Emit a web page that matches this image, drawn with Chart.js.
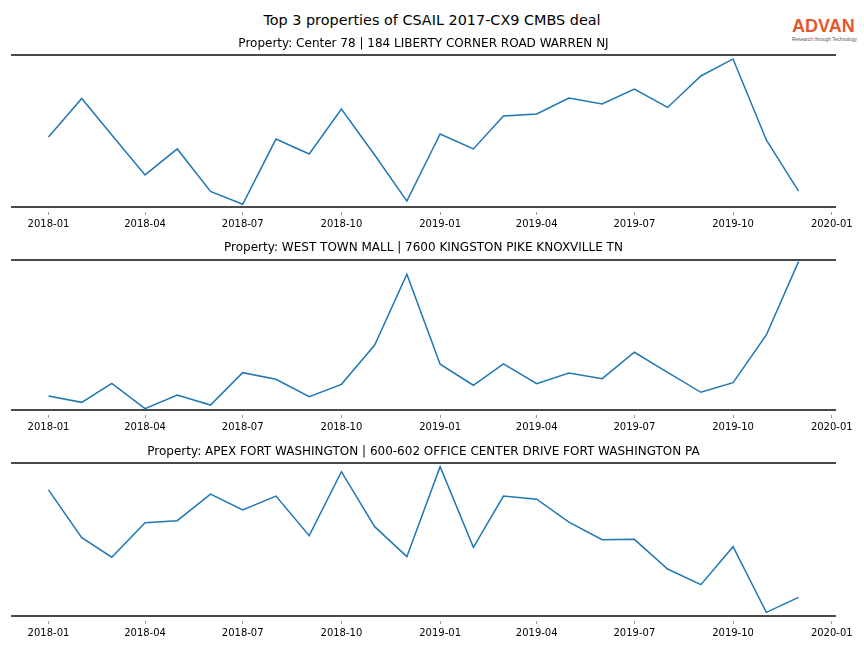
<!DOCTYPE html>
<html lang="en">
<head>
<meta charset="UTF-8">
<title>Top 3 properties of CSAIL 2017-CX9 CMBS deal</title>
<script src="https://cdn.jsdelivr.net/npm/chart.js"></script>
<style>
    body { margin: 0; width: 864px; height: 648px; background: #fff; position: relative; overflow: hidden; font-family: "DejaVu Sans", sans-serif; }
    #suptitle { position: absolute; top: 10px; left: 0; width: 864px; text-align: center; font-size: 14.4px; line-height: 20px; color: #000; }
    .panel { position: absolute; left: 0; width: 864px; }
    #logo { position: absolute; left: 792px; top: 16px; width: 70px; text-align: left; }
    #logo .brand { font-family: "Liberation Sans", Arial, sans-serif; font-weight: bold; font-size: 18px; line-height: 21px; color: #e4572e; }
    #logo .tag { font-family: "Liberation Sans", Arial, sans-serif; font-size: 4.9px; line-height: 5px; color: #555; white-space: nowrap; }
</style>
</head>
<body>
<div id="suptitle">Top 3 properties of CSAIL 2017-CX9 CMBS deal</div>
<div id="logo"><div class="brand">ADVAN</div><div class="tag">Research through Technology</div></div>

<div class="panel" style="top:30px;height:200px"><canvas id="chart1"></canvas></div>
<div class="panel" style="top:234px;height:199px"><canvas id="chart2"></canvas></div>
<div class="panel" style="top:438px;height:201px"><canvas id="chart3"></canvas></div>

<script>
    // monthly observations, 2018-01 .. 2019-12
    const months = [
        '2018-01', '2018-02', '2018-03', '2018-04', '2018-05', '2018-06',
        '2018-07', '2018-08', '2018-09', '2018-10', '2018-11', '2018-12',
        '2019-01', '2019-02', '2019-03', '2019-04', '2019-05', '2019-06',
        '2019-07', '2019-08', '2019-09', '2019-10', '2019-11', '2019-12'
    ];
    const tickLabels = ['2018-01', '2018-04', '2018-07', '2018-10', '2019-01', '2019-04', '2019-07', '2019-10', '2020-01'];

    const titles = [
        'Property: Center 78 | 184 LIBERTY CORNER ROAD WARREN NJ',
        'Property: WEST TOWN MALL | 7600 KINGSTON PIKE KNOXVILLE TN',
        'Property: APEX FORT WASHINGTON | 600-602 OFFICE CENTER DRIVE FORT WASHINGTON PA'
    ];

    // relative visit index (no y axis shown in the original)
    const center78 = [46.1, 71.4, 47.4, 21.1, 38.2, 10.2, 1.8, 44.7, 34.9, 64.5, 34.2, 3.9,
                      48.0, 38.2, 59.9, 61.2, 71.7, 67.8, 77.6, 65.5, 86.2, 97.4, 44.1, 10.5];
    const westTownMall = [9.3, 5.1, 17.8, 0.9, 10.0, 3.3, 24.9, 20.5, 8.9, 17.1, 43.3, 90.5,
                          30.5, 16.5, 30.7, 17.5, 24.7, 20.9, 38.5, 25.1, 11.8, 18.2, 50.0, 98.9];
    const apexFortWashington = [82.4, 51.2, 38.4, 61.0, 62.3, 79.7, 69.3, 78.4, 52.5, 94.3, 58.4, 38.8,
                                97.6, 44.9, 78.4, 76.3, 61.4, 49.9, 50.1, 30.7, 20.5, 45.3, 2.4, 12.2];

    const DAY = 86400000;
    const origin = Date.UTC(2018, 0, 1);
    function toDays(label) {
        const [y, m] = label.split('-').map(Number);
        return Math.round((Date.UTC(y, m - 1, 1) - origin) / DAY);
    }
    const tickDays = tickLabels.map(toDays);
    const labelByDay = {};
    tickLabels.forEach((l, i) => { labelByDay[tickDays[i]] = l; });

    function makePanel(canvasId, title, values, titlePadBottom) {
        new Chart(document.getElementById(canvasId), {
            type: 'line',
            data: {
                datasets: [{
                    data: months.map((m, i) => ({ x: toDays(m), y: values[i] })),
                    borderColor: '#1f77b4',
                    borderWidth: 1.5,
                    pointRadius: 0,
                    tension: 0,
                    fill: false
                }]
            },
            options: {
                responsive: true,
                maintainAspectRatio: false,
                animation: false,
                layout: { padding: { left: 12, right: 29, top: 0, bottom: 0 } },
                plugins: {
                    legend: { display: false },
                    tooltip: { enabled: false },
                    title: {
                        display: true,
                        text: title,
                        fullSize: false,
                        color: '#000',
                        font: { family: 'DejaVu Sans', size: 12, weight: 'normal' },
                        padding: { top: 6.8, bottom: titlePadBottom - 1.8 }
                    }
                },
                scales: {
                    x: {
                        type: 'linear',
                        position: 'bottom',
                        min: -34,
                        max: 733,
                        afterBuildTicks: s => { s.ticks = tickDays.map(v => ({ value: v })); },
                        afterFit: s => { s.height = 23; },
                        border: { display: true, color: '#4a4a4a', width: 2 },
                        grid: {
                            display: true,
                            drawOnChartArea: false,
                            drawTicks: true,
                            tickLength: 8,
                            tickColor: '#999',
                            tickWidth: 1,
                            tickBorderDash: [0, 4, 4, 100]
                        },
                        ticks: {
                            autoSkip: false,
                            maxRotation: 0,
                            padding: 3,
                            color: '#000',
                            font: { family: 'DejaVu Sans', size: 10 },
                            callback: v => labelByDay[v] || ''
                        }
                    },
                    xTop: {
                        type: 'linear',
                        position: 'top',
                        min: -34,
                        max: 733,
                        afterFit: s => { s.height = 0; },
                        border: { display: true, color: '#4a4a4a', width: 2 },
                        grid: { display: false },
                        ticks: { display: false }
                    },
                    y: {
                        display: false,
                        min: 0,
                        max: 100
                    }
                }
            }
        });
    }

    makePanel('chart1', titles[0], center78, 5.6);
    makePanel('chart2', titles[1], westTownMall, 6.6);
    makePanel('chart3', titles[2], apexFortWashington, 5.6);
</script>
</body>
</html>
